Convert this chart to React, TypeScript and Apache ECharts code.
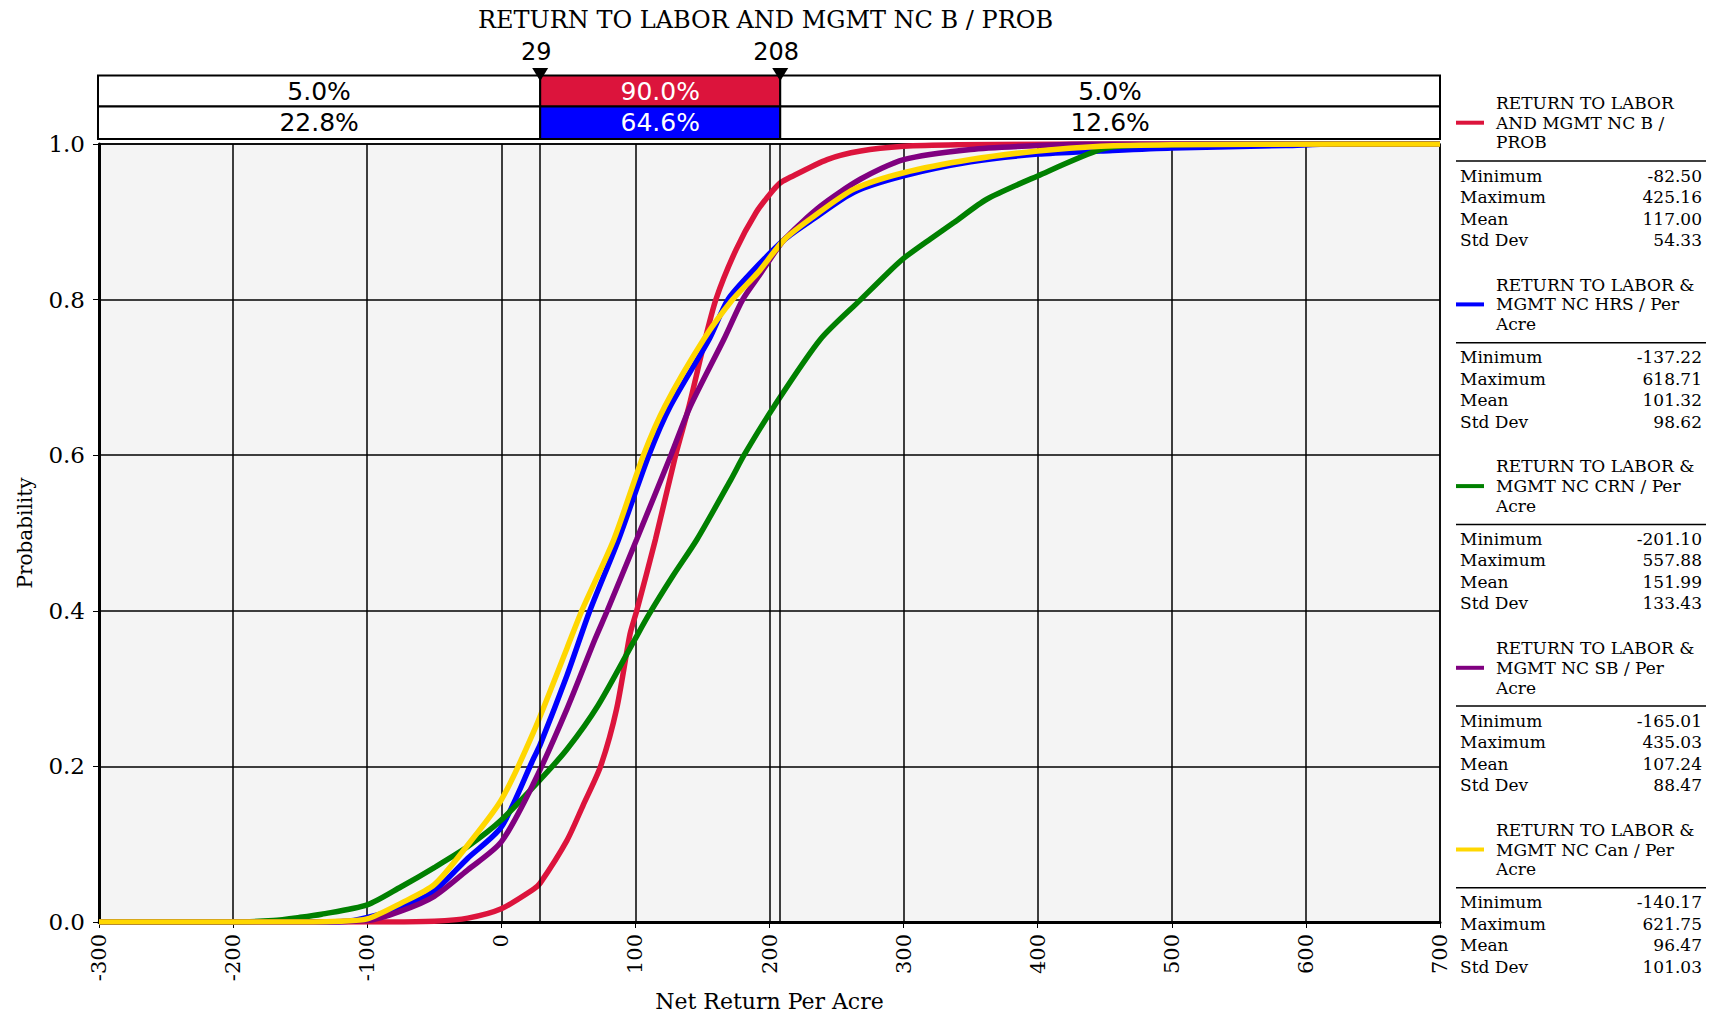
import React, { useEffect, useRef } from "react";
import * as echarts from "echarts";

const TITLE = "RETURN TO LABOR AND MGMT NC B / PROB";
const X_MIN = -300;
const X_MAX = 700;
const X_INTERVAL = 100;
const Y_MIN = 0;
const Y_MAX = 1;
const Y_INTERVAL = 0.2;
const X_NAME = "Net Return Per Acre";
const Y_NAME = "Probability";
const LOWER = 29;
const UPPER = 208;
const ROW1 = ["5.0%", "90.0%", "5.0%"];
const ROW2 = ["22.8%", "64.6%", "12.6%"];

const COLORS = ["#dc143c", "#0000ff", "#008000", "#800080", "#ffd700"];
const NAMES = [
  "RETURN TO LABOR AND MGMT NC B / PROB",
  "RETURN TO LABOR & MGMT NC HRS / Per Acre",
  "RETURN TO LABOR & MGMT NC CRN / Per Acre",
  "RETURN TO LABOR & MGMT NC SB / Per Acre",
  "RETURN TO LABOR & MGMT NC Can / Per Acre",
];
const LEGEND_LINES = [
  ["RETURN TO LABOR", "AND MGMT NC B /", "PROB"],
  ["RETURN TO LABOR &", "MGMT NC HRS / Per", "Acre"],
  ["RETURN TO LABOR &", "MGMT NC CRN / Per", "Acre"],
  ["RETURN TO LABOR &", "MGMT NC SB / Per", "Acre"],
  ["RETURN TO LABOR &", "MGMT NC Can / Per", "Acre"],
];
const STAT_LABELS = ["Minimum", "Maximum", "Mean", "Std Dev"];
const STATS_B = ["-82.50", "425.16", "117.00", "54.33"];
const STATS_HRS = ["-137.22", "618.71", "101.32", "98.62"];
const STATS_CRN = ["-201.10", "557.88", "151.99", "133.43"];
const STATS_SB = ["-165.01", "435.03", "107.24", "88.47"];
const STATS_CAN = ["-140.17", "621.75", "96.47", "101.03"];

// CDF points: values (x) and cumulative probabilities (p)
const B_X = [-300, -82.5, -50, -25, 0, 24, 29, 49, 61, 74, 86, 96, 101, 115, 130, 140, 150, 160, 175, 190, 201, 208, 213, 243, 268, 300, 340, 425.16, 700];
const B_P = [0, 0, 0.001, 0.005, 0.017, 0.042, 0.05, 0.105, 0.15, 0.2, 0.274, 0.37, 0.4, 0.492, 0.6, 0.663, 0.735, 0.8, 0.864, 0.912, 0.937, 0.95, 0.955, 0.98, 0.991, 0.997, 0.999, 1, 1];

const HRS_X = [-300, -137.22, -110, -75, -50, -25, 0, 24, 29, 49, 66, 87.5, 110, 126, 155, 169, 186, 211, 233, 263, 300, 350, 400, 447, 500, 585, 618.71, 700];
const HRS_P = [0, 0, 0.002, 0.018, 0.04, 0.082, 0.122, 0.21, 0.228, 0.317, 0.4, 0.492, 0.6, 0.663, 0.749, 0.8, 0.834, 0.877, 0.904, 0.938, 0.959, 0.977, 0.987, 0.991, 0.995, 0.998, 1, 1];

const CRN_X = [-300, -201.1, -170, -150, -134, -100, -75, -50, -25, 0, 29, 49, 72, 98.6, 110, 128, 146, 171, 181, 203.5, 238, 268, 288, 300, 320, 337.5, 362, 400, 447, 470, 557.88, 700];
const CRN_P = [0, 0, 0.002, 0.006, 0.01, 0.022, 0.045, 0.07, 0.097, 0.131, 0.183, 0.222, 0.278, 0.36, 0.395, 0.445, 0.492, 0.568, 0.6, 0.663, 0.749, 0.8, 0.834, 0.853, 0.878, 0.899, 0.929, 0.959, 0.993, 0.998, 1, 1];

const SB_X = [-300, -165.01, -100, -75, -50, -25, 0, 24, 49, 70, 79, 101, 126.5, 141, 166, 180, 193.5, 211, 238, 268, 300, 350, 400, 435.03, 700];
const SB_P = [0, 0, 0.002, 0.014, 0.033, 0.067, 0.103, 0.178, 0.274, 0.364, 0.4, 0.492, 0.6, 0.663, 0.749, 0.8, 0.834, 0.877, 0.92, 0.955, 0.98, 0.993, 0.998, 1, 1];

const CAN_X = [-300, -140.17, -121, -100, -75, -50, -25, 0, 24, 49, 60, 84, 106, 122, 151, 172.5, 191, 211, 233, 263, 300, 350, 400, 447, 500, 621.75, 700];
const CAN_P = [0, 0, 0.001, 0.004, 0.024, 0.048, 0.099, 0.157, 0.244, 0.352, 0.4, 0.492, 0.6, 0.663, 0.749, 0.8, 0.834, 0.877, 0.907, 0.942, 0.963, 0.98, 0.991, 0.997, 0.999, 1, 1];

const SERIES_X = [B_X, HRS_X, CRN_X, SB_X, CAN_X];
const SERIES_P = [B_P, HRS_P, CRN_P, SB_P, CAN_P];
const SERIES_STATS = [STATS_B, STATS_HRS, STATS_CRN, STATS_SB, STATS_CAN];

const SERIF = '"DejaVu Serif", "Liberation Serif", serif';
const SANS = '"DejaVu Sans", "Liberation Sans", sans-serif';

function text(x: number, y: number, t: string, size: number, family: string, color: string, align: string, extra: any = {}) {
  return {
    type: "text",
    x,
    y,
    silent: true,
    z: 100,
    ...extra,
    style: {
      text: t,
      fill: color,
      fontSize: size,
      fontFamily: family,
      textAlign: align,
      align,
      textVerticalAlign: "middle",
      verticalAlign: "middle",
    },
  };
}

export default function App() {
  const ref = useRef<HTMLDivElement>(null);

  useEffect(() => {
    const el = ref.current!;
    const chart = echarts.init(el, null, { renderer: "svg" });

    const lineSeries = SERIES_X.map((xs, i) => ({
      type: "line",
      name: NAMES[i],
      data: xs.map((x, k) => [x, SERIES_P[i][k]]),
      showSymbol: false,
      symbol: "none",
      smooth: 0.25,
      z: 3,
      lineStyle: { color: COLORS[i], width: 5.5 },
      itemStyle: { color: COLORS[i] },
    }));

    const option: any = {
      animation: false,
      backgroundColor: "#ffffff",
      grid: {
        left: 99,
        right: 277,
        top: 144,
        bottom: 93,
        show: true,
        backgroundColor: "#f4f4f4",
        borderColor: "#000",
        borderWidth: 1.5,
      },
      xAxis: {
        type: "value",
        min: X_MIN,
        max: X_MAX,
        interval: X_INTERVAL,
        name: X_NAME,
        nameLocation: "middle",
        nameGap: 68,
        nameTextStyle: { fontFamily: SERIF, fontSize: 22, color: "#000" },
        axisLine: { show: true, onZero: false, lineStyle: { color: "#000", width: 3 } },
        axisTick: { show: true, length: 6, lineStyle: { color: "#000", width: 1 } },
        axisLabel: { rotate: 90, margin: 12, fontFamily: SERIF, fontSize: 21, color: "#000" },
        splitLine: { show: true, lineStyle: { color: "#000", width: 1.5 } },
      },
      yAxis: {
        type: "value",
        min: Y_MIN,
        max: Y_MAX,
        interval: Y_INTERVAL,
        name: Y_NAME,
        nameLocation: "middle",
        nameGap: 64,
        nameRotate: 90,
        nameTextStyle: { fontFamily: SERIF, fontSize: 20, color: "#000" },
        axisLine: { show: true, onZero: false, lineStyle: { color: "#000", width: 3 } },
        axisTick: { show: true, length: 6, lineStyle: { color: "#000", width: 1 } },
        axisLabel: {
          margin: 14,
          fontFamily: SERIF,
          fontSize: 23,
          color: "#000",
          formatter: (v: number) => v.toFixed(1),
        },
        splitLine: { show: true, lineStyle: { color: "#000", width: 1.5 } },
      },
      series: [
        {
          type: "line",
          data: [],
          z: 1,
          silent: true,
          markLine: {
            silent: true,
            symbol: ["none", "none"],
            label: { show: false },
            lineStyle: { color: "#000", type: "solid", width: 1.5 },
            data: [{ xAxis: LOWER }, { xAxis: UPPER }],
          },
        },
        ...lineSeries,
      ],
    };

    chart.setOption(option);

    const px = (v: number) => chart.convertToPixel({ xAxisIndex: 0 }, v) as number;
    const xMin = px(X_MIN) - 1;
    const xMax = px(X_MAX);
    const xLo = px(LOWER);
    const xHi = px(UPPER);
    const midX = (px(X_MIN) + px(X_MAX)) / 2;

    const els: any[] = [];

    // Title
    els.push(text(midX - 4, 20, TITLE, 24, SERIF, "#000", "center"));

    // Interval boxes
    const rowTop = [75.5, 106.5];
    const rowH = [31, 32.5];
    const fills = [COLORS[0], COLORS[1]];
    const rows = [ROW1, ROW2];
    const edges = [xMin, xLo, xHi, xMax];
    for (let r = 0; r < 2; r++) {
      for (let c = 0; c < 3; c++) {
        els.push({
          type: "rect",
          silent: true,
          z: 90,
          shape: { x: edges[c], y: rowTop[r], width: edges[c + 1] - edges[c], height: rowH[r] },
          style: { fill: c === 1 ? fills[r] : "#ffffff", stroke: "#000", lineWidth: 2 },
        });
        els.push(
          text((edges[c] + edges[c + 1]) / 2, rowTop[r] + rowH[r] / 2, rows[r][c], 25, SANS, c === 1 ? "#ffffff" : "#000", "center")
        );
      }
    }

    // Bound markers
    [
      [xLo, String(LOWER)],
      [xHi, String(UPPER)],
    ].forEach(([x, label]: any) => {
      els.push(text(x - 4, 52, label, 24, SANS, "#000", "center"));
      els.push({
        type: "polygon",
        silent: true,
        z: 110,
        shape: { points: [[x - 8, 68], [x + 8, 68], [x, 81]] },
        style: { fill: "#000" },
      });
    });

    // Legend with statistics
    const legendTop = 103;
    const blockStep = 181.7;
    for (let i = 0; i < 5; i++) {
      const b = legendTop + i * blockStep;
      els.push({
        type: "line",
        silent: true,
        z: 100,
        shape: { x1: 1456, y1: b + 19.7, x2: 1484, y2: b + 19.7 },
        style: { stroke: COLORS[i], lineWidth: 4 },
      });
      LEGEND_LINES[i].forEach((ln, k) => {
        els.push(text(1496, b + k * 19.7, ln, 17, SERIF, "#000", "left"));
      });
      els.push({
        type: "line",
        silent: true,
        z: 100,
        shape: { x1: 1456, y1: b + 58, x2: 1706, y2: b + 58 },
        style: { stroke: "#000", lineWidth: 1.5 },
      });
      STAT_LABELS.forEach((lab, k) => {
        const y = b + 72.5 + k * 21.5;
        els.push(text(1460, y, lab, 17, SERIF, "#000", "left"));
        els.push(text(1702, y, SERIES_STATS[i][k], 17, SERIF, "#000", "right"));
      });
    }

    chart.setOption({ graphic: els });

    return () => {
      chart.dispose();
    };
  }, []);

  return (
    <div
      ref={ref}
      style={{ position: "fixed", left: 0, top: 0, width: 1717, height: 1017, background: "#fff" }}
    />
  );
}
